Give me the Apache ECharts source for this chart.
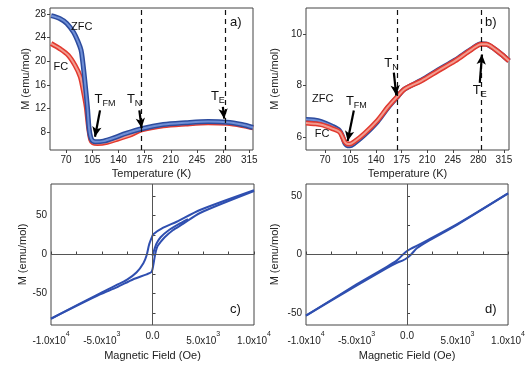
<!DOCTYPE html>
<html>
<head>
<meta charset="utf-8">
<script src="https://cdn.jsdelivr.net/npm/echarts@6/dist/echarts.min.js"></script>
<style>
  html, body { margin: 0; padding: 0; background: #fff; }
  #chart { width: 528px; height: 370px; }
</style>
</head>
<body>
<div id="chart"></div>
<script>
// panel a: M(T), ZFC and FC
const aZfcT = [50, 62, 71, 80, 86, 90, 92, 95, 98.5, 101, 104, 109, 120, 135, 150, 171, 200, 230, 260, 285, 305, 320];
const aZfcM = [27.7, 27.2, 26.4, 24.9, 23.3, 21.9, 20.2, 16.8, 12.3, 8.4, 6.8, 6.4, 6.5, 7.1, 7.8, 8.6, 9.3, 9.6, 9.8, 9.7, 9.3, 8.8];
const aFcT = [50, 62, 73, 82, 89, 93, 97, 100, 103, 106, 112, 125, 140, 155, 171, 200, 230, 260, 285, 305, 320];
const aFcM = [23.0, 22.1, 21.0, 19.3, 17.4, 15.1, 12.3, 8.9, 6.7, 6.2, 6.1, 6.3, 6.9, 7.5, 8.4, 9.1, 9.4, 9.6, 9.5, 9.15, 8.75];

// panel b
const bT = [44, 55, 65, 80, 90, 94, 97, 100, 104, 110, 124, 142, 156, 168, 179, 202, 225, 248, 271, 284, 291, 303, 312, 322];
const bFcM = [6.55, 6.52, 6.48, 6.33, 6.2, 6.0, 5.82, 5.74, 5.73, 5.82, 6.14, 6.65, 7.16, 7.54, 7.86, 8.18, 8.57, 8.95, 9.4, 9.6, 9.6, 9.4, 9.2, 8.95];
const bZfcM = [6.68, 6.66, 6.6, 6.42, 6.25, 6.02, 5.78, 5.68, 5.66, 5.75, 6.08, 6.6, 7.13, 7.52, 7.86, 8.2, 8.6, 8.98, 9.42, 9.62, 9.6, 9.4, 9.2, 8.95];

// panel c: M(H) loop
const cDownH = [10000, 4680, 2380, 1060, 80, -80, -345, -570, -900, -1560, -2540, -3530, -5170, -10000];
const cDownM = [82, 56.8, 41.8, 34.2, 25.8, 21.4, 12.1, -0.6, -11.2, -22.7, -32.5, -38.9, -49.5, -82];
const cUpH = [-10000, -5170, -3530, -1890, -570, -80, 80, 250, 475, 800, 1200, 2000, 3000, 4680, 10000];
const cUpM = [-82, -51, -42, -31.6, -25.3, -22, -13.4, -0.6, 10, 16, 22, 31, 39, 53, 81];
const cVirginH = [0, 150, 400, 800, 1500, 2500, 3500];
const cVirginM = [-2, 5, 14, 22, 30, 38, 45];

// panel d
const dDownH = [10000, 5000, 2000, 1000, 400, 0, -400, -1000, -2000, -5000, -10000];
const dDownM = [52, 26, 12, 7.5, 5, 3, 0, -5, -10.5, -25.5, -52];
const dUpH = [-10000, -5000, -2000, -1000, -400, 0, 400, 1000, 2000, 5000, 10000];
const dUpM = [-52, -26.5, -11.5, -7, -5, -3, 0, 5.5, 11, 25.5, 52];

// ticks
const tempTicks = [70, 105, 140, 175, 210, 245, 280, 315];
const aMTicks = [8, 12, 16, 20, 24, 28];
const bMTicks = [6, 8, 10];
const fieldTicks = [-10000, -5000, 0, 5000, 10000];
const fieldMinor = [-10000, -7500, -5000, -2500, 0, 2500, 5000, 7500, 10000];
const cMTicks = [-50, 0, 50];
const cMMinor = [-75, -50, -25, 0, 25, 50, 75];
const dMMinor = [-50, -25, 0, 25, 50];

// transitions (dashed lines) and annotations
const aTransitions = [171, 283];
const bTransitions = [169, 284];
const aArrows = [[[115.4, 11.7], [108.7, 7.25]], [[168, 11.7], [171, 8.7]], [[279.7, 12.3], [281.5, 10.3]]];
const bArrows = [[[109.5, 7.03], [101, 5.85]], [[164.3, 8.5], [167.6, 7.62]], [[282, 8.1], [285, 9.2]]];
const aNotes = [['T', 'FM', 122, 13.4], ['T', 'N', 161, 13.4], ['T', 'E', 273, 13.9], ['ZFC', '', 91, 25.8], ['FC', '', 63, 19.0]];
const bNotes = [['T', 'FM', 113, 7.35], ['T', 'N', 161, 8.82], ['T', 'E', 282, 7.75], ['ZFC', '', 67, 7.48], ['FC', '', 66, 6.14]];

const FONT = '"Liberation Sans", Arial, sans-serif';
const zip = (xs, ys) => xs.map((x, i) => [x, ys[i]]);

function fieldLabel(v) {
  if (v === 0) return '0.0';
  const e = Math.floor(Math.log10(Math.abs(v)));
  const m = (Math.abs(v) / Math.pow(10, e)).toFixed(1);
  return '{b|' + (v < 0 ? '-' : '') + m + 'x10}{p|' + e + '}';
}

const labelBase = { fontFamily: FONT, fontSize: 10, color: '#222' };

function xAxisT(gi, min, max) {
  return {
    gridIndex: gi, type: 'value', min, max,
    name: 'Temperature (K)', nameLocation: 'middle', nameGap: 18,
    nameTextStyle: { fontFamily: FONT, fontSize: 11, color: '#222' },
    axisLine: { show: false }, splitLine: { show: false },
    axisTick: { customValues: tempTicks, length: 3, lineStyle: { color: '#444' } },
    axisLabel: { ...labelBase, customValues: tempTicks, margin: 5 }
  };
}
function xAxisH(gi) {
  return {
    gridIndex: gi, type: 'value', min: -10000, max: 10000,
    name: 'Magnetic Field (Oe)', nameLocation: 'middle', nameGap: 25,
    nameTextStyle: { fontFamily: FONT, fontSize: 11, color: '#222' },
    axisLine: { show: false }, splitLine: { show: false },
    axisTick: { customValues: fieldMinor, inside: true, length: 3, lineStyle: { color: '#444' } },
    axisLabel: {
      ...labelBase, customValues: fieldTicks, margin: 6, showMinLabel: true, showMaxLabel: true,
      formatter: fieldLabel,
      rich: {
        b: { fontFamily: FONT, fontSize: 10, color: '#222', verticalAlign: 'bottom', lineHeight: 15 },
        p: { fontFamily: FONT, fontSize: 7, color: '#222', verticalAlign: 'top', lineHeight: 15 }
      }
    }
  };
}
function yAxisM(gi, min, max, labels, ticks, gap, inside) {
  return {
    gridIndex: gi, type: 'value', min, max,
    name: 'M (emu/mol)', nameLocation: 'middle', nameGap: gap,
    nameTextStyle: { fontFamily: FONT, fontSize: 11, color: '#222' },
    axisLine: { show: false }, splitLine: { show: false },
    axisTick: { customValues: ticks, inside: inside, length: 3, lineStyle: { color: '#444' } },
    axisLabel: { ...labelBase, customValues: labels, margin: 4, showMinLabel: true, showMaxLabel: true }
  };
}

function band(name, gi, data, outer, inner) {
  return [
    { name, type: 'line', xAxisIndex: gi, yAxisIndex: gi, data, smooth: 0.3, symbol: 'none',
      lineStyle: { width: 5, color: outer }, z: 2 },
    { name, type: 'line', xAxisIndex: gi, yAxisIndex: gi, data, smooth: 0.3, symbol: 'none',
      lineStyle: { width: 2, color: inner }, z: 2 }
  ];
}

function annotations(gi, transitions, arrows, notes) {
  return {
    type: 'line', xAxisIndex: gi, yAxisIndex: gi, data: [], silent: true, z: 5,
    markLine: {
      silent: true, animation: false, label: { show: false },
      data: transitions.map(t => [
        { xAxis: t, yAxis: 'max', symbol: 'none', lineStyle: { type: [5, 4], color: '#111', width: 1.2 } },
        { xAxis: t, yAxis: 'min', symbol: 'none' }
      ]).concat(arrows.map(a => [
        { coord: a[0], symbol: 'none', lineStyle: { type: 'solid', color: '#000', width: 2.2 } },
        { coord: a[1], symbol: 'arrow', symbolSize: [7, 10] }
      ]))
    },
    markPoint: {
      silent: true, animation: false, symbol: 'circle', symbolSize: 0,
      data: notes.map(n => ({
        coord: [n[2], n[3]],
        label: {
          show: true, position: 'inside',
          formatter: n[1] ? '{t|' + n[0] + '}{s|' + n[1] + '}' : '{z|' + n[0] + '}',
          rich: {
            t: { fontFamily: FONT, fontSize: 13, color: '#111', verticalAlign: 'top', lineHeight: 15 },
            s: { fontFamily: FONT, fontSize: 9, color: '#111', verticalAlign: 'bottom', lineHeight: 15 },
            z: { fontFamily: FONT, fontSize: 11, color: '#111' }
          }
        }
      }))
    }
  };
}

const loopStyle = { width: 2, color: '#2f4fb0' };
function loop(gi, data) {
  return { type: 'line', xAxisIndex: gi, yAxisIndex: gi, data, smooth: 0.25, symbol: 'none', lineStyle: loopStyle, z: 3 };
}
function zeroLines(gi) {
  return {
    type: 'line', xAxisIndex: gi, yAxisIndex: gi, data: [], silent: true, z: 1,
    markLine: {
      silent: true, animation: false, symbol: 'none', label: { show: false },
      lineStyle: { type: 'solid', color: '#555', width: 1 },
      data: [{ xAxis: 0 }, { yAxis: 0 }]
    }
  };
}

const gridBox = { show: true, borderColor: '#444', borderWidth: 1, backgroundColor: 'transparent' };

const chart = echarts.init(document.getElementById('chart'), null, { renderer: 'canvas' });
chart.setOption({
  animation: false,
  backgroundColor: '#fff',
  grid: [
    { ...gridBox, left: 50, right: 275, top: 8, bottom: 220 },
    { ...gridBox, left: 306, right: 19, top: 8, bottom: 220 },
    { ...gridBox, left: 51, right: 274, top: 184, bottom: 45 },
    { ...gridBox, left: 306, right: 19, top: 184, bottom: 45 }
  ],
  xAxis: [xAxisT(0, 48.5, 320), xAxisT(1, 44, 322), xAxisH(2), xAxisH(3)],
  yAxis: [
    yAxisM(0, 5, 29, aMTicks, aMTicks, 14, false),
    yAxisM(1, 5.5, 11, bMTicks, bMTicks, 26, false),
    yAxisM(2, -90, 90, cMTicks, cMMinor, 15, true),
    yAxisM(3, -60, 60, cMTicks, dMMinor, 26, true)
  ],
  graphic: [
    { type: 'text', left: 230, top: 16, style: { text: 'a)', font: '13px ' + FONT, fill: '#111' } },
    { type: 'text', left: 485, top: 16, style: { text: 'b)', font: '13px ' + FONT, fill: '#111' } },
    { type: 'text', left: 230, top: 303, style: { text: 'c)', font: '13px ' + FONT, fill: '#111' } },
    { type: 'text', left: 485, top: 303, style: { text: 'd)', font: '13px ' + FONT, fill: '#111' } }
  ],
  series: [
    ...band('FC', 0, zip(aFcT, aFcM), '#e23a2f', '#f29b8f'),
    ...band('ZFC', 0, zip(aZfcT, aZfcM), '#2d4c9e', '#6f8fd6'),
    annotations(0, aTransitions, aArrows, aNotes),
    ...band('ZFC', 1, zip(bT, bZfcM), '#2d4c9e', '#6f8fd6'),
    ...band('FC', 1, zip(bT, bFcM), '#e23a2f', '#f29b8f'),
    annotations(1, bTransitions, bArrows, bNotes),
    zeroLines(2),
    loop(2, zip(cDownH, cDownM)),
    loop(2, zip(cUpH, cUpM)),
    loop(2, zip(cVirginH, cVirginM)),
    zeroLines(3),
    loop(3, zip(dDownH, dDownM)),
    loop(3, zip(dUpH, dUpM))
  ]
});
window.addEventListener('resize', () => chart.resize());
</script>
</body>
</html>
